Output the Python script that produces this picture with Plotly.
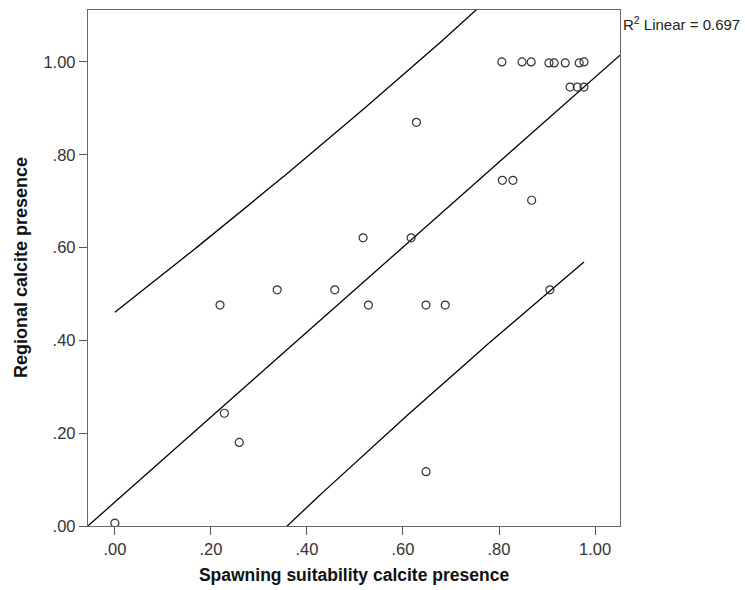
import numpy as np
import plotly.graph_objects as go

# Spawning suitability vs. regional calcite presence
spawning = [0.000, 0.219, 0.228, 0.259, 0.338, 0.458, 0.517, 0.528, 0.617, 0.628,
            0.648, 0.648, 0.688, 0.807, 0.829, 0.868, 0.906,
            0.806, 0.848, 0.867, 0.904, 0.915, 0.938, 0.967, 0.977,
            0.948, 0.963, 0.977]
regional = [0.006, 0.476, 0.243, 0.180, 0.509, 0.509, 0.621, 0.476, 0.621, 0.870,
            0.476, 0.117, 0.476, 0.745, 0.745, 0.702, 0.509,
            1.000, 1.000, 1.000, 0.998, 0.998, 0.998, 0.998, 1.000,
            0.946, 0.946, 0.946]
r_squared_reported = 0.697

tick_vals = [0.0, 0.2, 0.4, 0.6, 0.8, 1.0]
tick_text = [".00", ".20", ".40", ".60", ".80", "1.00"]
x_range = [-0.056, 1.052]
y_range = [0.0, 1.112]
t_crit = 2.056  # two-sided 95%, df = n - 2

x = np.array(spawning)
y = np.array(regional)
n = len(x)
slope, intercept = np.polyfit(x, y, 1)
resid = y - (intercept + slope * x)
s = np.sqrt(np.sum(resid ** 2) / (n - 2))
sxx = np.sum((x - x.mean()) ** 2)

# Individual prediction band over the observed x span
xb = np.linspace(x.min(), x.max(), 200)
half = t_crit * s * np.sqrt(1 + 1 / n + (xb - x.mean()) ** 2 / sxx)
yfit_b = intercept + slope * xb

xf = np.array(x_range)
yf = intercept + slope * xf

line_style = dict(color="black", width=1.3)
fig = go.Figure()
fig.add_trace(go.Scatter(x=xf, y=yf, mode="lines", line=line_style, hoverinfo="skip"))
fig.add_trace(go.Scatter(x=xb, y=yfit_b + half, mode="lines", line=line_style, hoverinfo="skip"))
fig.add_trace(go.Scatter(x=xb, y=yfit_b - half, mode="lines", line=line_style, hoverinfo="skip"))
fig.add_trace(go.Scatter(
    x=spawning, y=regional, mode="markers",
    marker=dict(symbol="circle-open", size=8, color="#333333", line=dict(width=1.2)),
))

axis_common = dict(
    showgrid=False, zeroline=False, showline=True, mirror=True,
    linecolor="#666666", linewidth=1.3,
    ticks="outside", ticklen=8, tickcolor="#555555", tickwidth=1.3,
    tickvals=tick_vals, ticktext=tick_text,
    tickfont=dict(family="Liberation Sans, Arial", size=16.5, color="#333333"),
)

fig.update_layout(
    width=745, height=590,
    margin=dict(l=88, r=125, t=9, b=63),
    paper_bgcolor="white", plot_bgcolor="white",
    showlegend=False,
    font=dict(family="Liberation Sans, Arial", color="black"),
    xaxis=dict(range=x_range, **axis_common,
               title=dict(text="<b>Spawning suitability calcite presence</b>",
                          font=dict(size=17.5, color="#111111"), standoff=11)),
    yaxis=dict(range=y_range, **axis_common),
    annotations=[
        dict(
            x=1.0, y=1.0, xref="paper", yref="paper", xanchor="left", yanchor="top",
            xshift=1, yshift=-2, showarrow=False,
            text=f"R<sup>2</sup> Linear = {r_squared_reported:.3f}",
            font=dict(family="Liberation Sans, Arial", size=15, color="#222222"),
        ),
        dict(
            x=0, y=0.5, xref="paper", yref="paper", xanchor="center", yanchor="middle",
            xshift=-67, showarrow=False, textangle=-90,
            text="<b>Regional calcite presence</b>",
            font=dict(family="Liberation Sans, Arial", size=18, color="#111111"),
        ),
    ],
)

fig.write_html("out.html")
